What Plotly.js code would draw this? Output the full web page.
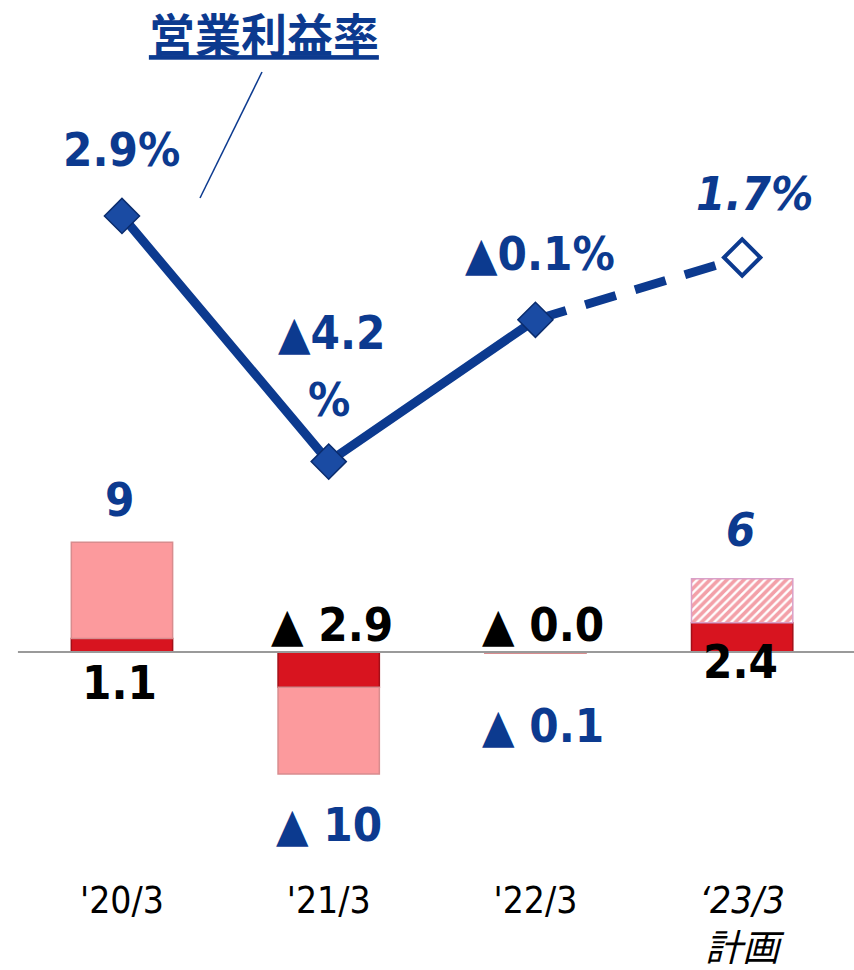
<!DOCTYPE html>
<html>
<head>
<meta charset="utf-8">
<script src="https://cdn.plot.ly/plotly-3.0.1.min.js"></script>
<style>html,body{margin:0;padding:0;background:#fff;}#chart{width:854px;height:970px;}</style>
</head>
<body>
<div id="chart"></div>
<script>
// ---- data ----
const categories = [0, 1, 2, 3];
const tickLabels = ["'20/3", "'21/3", "'22/3", "<i>‘23/3<br>計画</i>"];
const isPlan = [false, false, false, true];
const marginPct = [2.9, -4.2, -0.1, 1.7];           // 営業利益率 (%)
const marginLabels = ["2.9%", "▲4.2", "▲0.1%", "<i>1.7%</i>"];
const darkPart = [1.1, -2.9, 0.0, 2.4];             // dark red segment
const lightPart = [7.9, -7.1, -0.1, 3.6];           // light pink segment
const totals = [9, -10, -0.1, 6];
const darkLabels = ["1.1", "▲ 2.9", "▲ 0.0", "2.4"];
const totalLabels = ["9", "▲ 10", "▲ 0.1", "<i>6</i>"];

// ---- styles ----
const BLUE = '#0c3a8f';
const NARROW = '"Liberation Sans Narrow", "DejaVu Sans Condensed", "Noto Sans CJK JP", sans-serif';
const LBL = { family: NARROW, size: 47, weight: 'bold' };

const traces = [
  {
    type: 'bar', x: categories, y: darkPart, yaxis: 'y', width: 0.49,
    marker: { color: '#d8141f', line: { color: '#a30f18', width: 1.5 } },
    hoverinfo: 'skip'
  },
  {
    type: 'bar', x: categories, y: lightPart.map((v, i) => isPlan[i] ? null : v), yaxis: 'y', width: 0.49,
    marker: { color: '#fc9a9d', line: { color: '#d88c8e', width: 1.5 } },
    hoverinfo: 'skip'
  },
  {
    type: 'bar', x: categories, y: lightPart.map((v, i) => isPlan[i] ? v : null), yaxis: 'y', width: 0.49,
    marker: {
      color: '#f3a0a8', line: { color: '#d9a0c8', width: 1.5 },
      pattern: { shape: '/', fillmode: 'replace', fgcolor: '#f3a0a8', bgcolor: '#ffffff', size: 6, solidity: 0.6 }
    },
    hoverinfo: 'skip'
  },
  {
    type: 'scatter', mode: 'lines', x: categories.slice(2), y: marginPct.slice(2), yaxis: 'y2',
    line: { color: BLUE, width: 9, dash: '32px,20px' },
    hoverinfo: 'skip'
  },
  {
    type: 'scatter', mode: 'markers', x: categories.slice(3), y: marginPct.slice(3), yaxis: 'y2',
    marker: { symbol: 'diamond', size: 28, color: '#ffffff', line: { color: BLUE, width: 4 } },
    hoverinfo: 'skip'
  },
  {
    type: 'scatter', mode: 'lines+markers', x: categories.slice(0, 3), y: marginPct.slice(0, 3), yaxis: 'y2',
    line: { color: BLUE, width: 9 },
    marker: { symbol: 'diamond', size: 27, color: '#1a4ba3', line: { color: '#0a2c6e', width: 1.5 } },
    hoverinfo: 'skip'
  }
];

const annotations = [];
const lineShift = [[0, 66], [3, 129], [5, 66], [12, 64]];
marginPct.forEach((v, i) => {
  annotations.push({
    x: categories[i], y: v, xref: 'x', yref: 'y2', text: marginLabels[i], showarrow: false,
    xshift: lineShift[i][0], yshift: lineShift[i][1],
    font: Object.assign({ color: BLUE }, LBL)
  });
});
annotations.push({
  x: categories[1], y: marginPct[1], xref: 'x', yref: 'y2', text: '%', showarrow: false,
  xshift: 0, yshift: 62, font: Object.assign({ color: BLUE }, LBL)
});
const totalShift = [43, -51, -72, 49];
const totalX = [-2, 0, 8, -2];
totals.forEach((v, i) => {
  annotations.push({
    x: categories[i], y: v, xref: 'x', yref: 'y', text: totalLabels[i], showarrow: false,
    xshift: totalX[i], yshift: totalShift[i],
    font: Object.assign({ color: BLUE }, LBL)
  });
});
const darkShift = [-31, 27, 27, -10];
const darkX = [-2, 3, 8, -2];
darkPart.forEach((v, i) => {
  annotations.push({
    x: categories[i], y: 0, xref: 'x', yref: 'y', text: darkLabels[i], showarrow: false,
    xshift: darkX[i], yshift: darkShift[i],
    font: Object.assign({ color: '#000000' }, LBL)
  });
});

const layout = {
  width: 854, height: 970,
  margin: { l: 0, r: 0, t: 0, b: 100 },
  paper_bgcolor: '#ffffff', plot_bgcolor: '#ffffff',
  showlegend: false,
  barmode: 'relative',
  title: {
    text: '<u>営業利益率</u>', x: 0.309, xanchor: 'center', xref: 'paper',
    y: 1 - 36 / 970, yanchor: 'middle', yref: 'container',
    font: { family: '"Noto Sans CJK JP", sans-serif', size: 46, color: BLUE, weight: 'bold' }
  },
  xaxis: {
    type: 'linear', range: [-0.59, 3.541], tickvals: categories, ticktext: tickLabels,
    showgrid: false, zeroline: false, showline: false, ticks: '',
    tickfont: { family: NARROW, size: 37, color: '#000000' }, ticklabelstandoff: 5
  },
  yaxis: {
    range: [-17.87, 53.44], visible: false, showgrid: false, zeroline: false
  },
  yaxis2: {
    range: [-16.003, 9.142], overlaying: 'y', visible: false, showgrid: false, zeroline: false
  },
  shapes: [
    { type: 'line', xref: 'paper', yref: 'y', x0: 0.021, x1: 1, y0: 0, y1: 0,
      line: { color: '#9a9a9a', width: 2 }, layer: 'above' },
    { type: 'line', xref: 'paper', yref: 'paper', x0: 262 / 854, y0: 1 - 72 / 870, x1: 200 / 854, y1: 1 - 198 / 870,
      line: { color: BLUE, width: 1.5 } }
  ],
  annotations: annotations
};

Plotly.newPlot('chart', traces, layout, { staticPlot: true, displayModeBar: false });
</script>
</body>
</html>
